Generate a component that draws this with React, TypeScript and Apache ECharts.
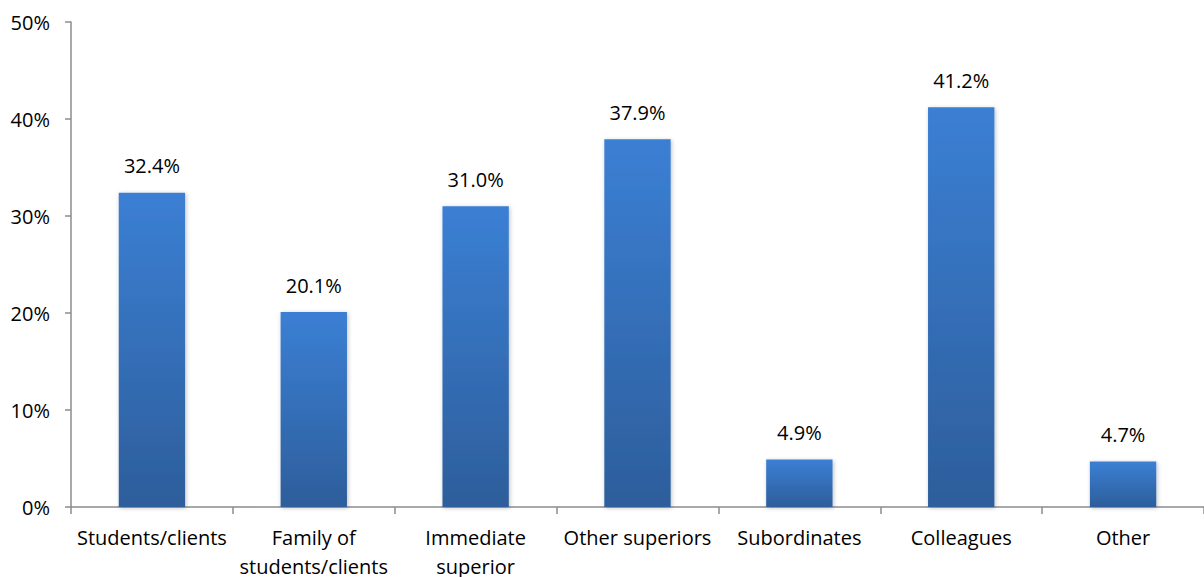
import React, { useEffect, useRef } from "react";
import * as echarts from "echarts";

const categories = [
  "Students/clients",
  "Family of\nstudents/clients",
  "Immediate\nsuperior",
  "Other superiors",
  "Subordinates",
  "Colleagues",
  "Other",
];
const values = [32.4, 20.1, 31.0, 37.9, 4.9, 41.2, 4.7];
const yTicks = [0, 10, 20, 30, 40, 50];

export default function App() {
  const ref = useRef<HTMLDivElement>(null);
  useEffect(() => {
    if (!ref.current) return;
    const chart = echarts.init(ref.current, null, { renderer: "svg" });
    const font = "'Open Sans', 'Noto Sans', sans-serif";
    chart.setOption({
      animation: false,
      grid: { left: 71, right: 0, top: 22, bottom: 70, containLabel: false, outerBoundsMode: "none" },
      xAxis: {
        type: "category",
        data: categories,
        axisLine: { lineStyle: { color: "#8c8c8c", width: 1.5 } },
        axisTick: { show: true, length: 7, alignWithLabel: false, lineStyle: { color: "#8c8c8c", width: 1.5 } },
        axisLabel: { color: "#000", fontSize: 20, fontFamily: font, margin: 16, lineHeight: 29, interval: 0 },
      },
      yAxis: {
        type: "value",
        min: yTicks[0],
        max: yTicks[yTicks.length - 1],
        interval: 10,
        splitLine: { show: false },
        axisLine: { show: true, lineStyle: { color: "#8c8c8c", width: 1.5 } },
        axisTick: { show: true, length: 6, lineStyle: { color: "#8c8c8c", width: 1.5 } },
        axisLabel: { color: "#000", fontSize: 20, fontFamily: font, margin: 21, formatter: "{value}%" },
      },
      series: [
        {
          type: "bar",
          data: values,
          barWidth: "41%",
          itemStyle: {
            color: new echarts.graphic.LinearGradient(0, 0, 0, 1, [
              { offset: 0, color: "#3b7fd4" },
              { offset: 1, color: "#2d5e9b" },
            ]),
            shadowColor: "rgba(0,0,0,0.25)",
            shadowBlur: 4,
            shadowOffsetX: 1,
            shadowOffsetY: 1,
          },
          label: {
            show: true,
            position: "top",
            distance: 17,
            color: "#000",
            fontSize: 20,
            fontFamily: font,
            formatter: (p: any) => p.value.toFixed(1) + "%",
          },
        },
      ],
    });
    return () => chart.dispose();
  }, []);
  return (
    <div
      ref={ref}
      style={{ position: "fixed", left: 0, top: 0, width: 1204, height: 577, background: "#fff" }}
    />
  );
}
